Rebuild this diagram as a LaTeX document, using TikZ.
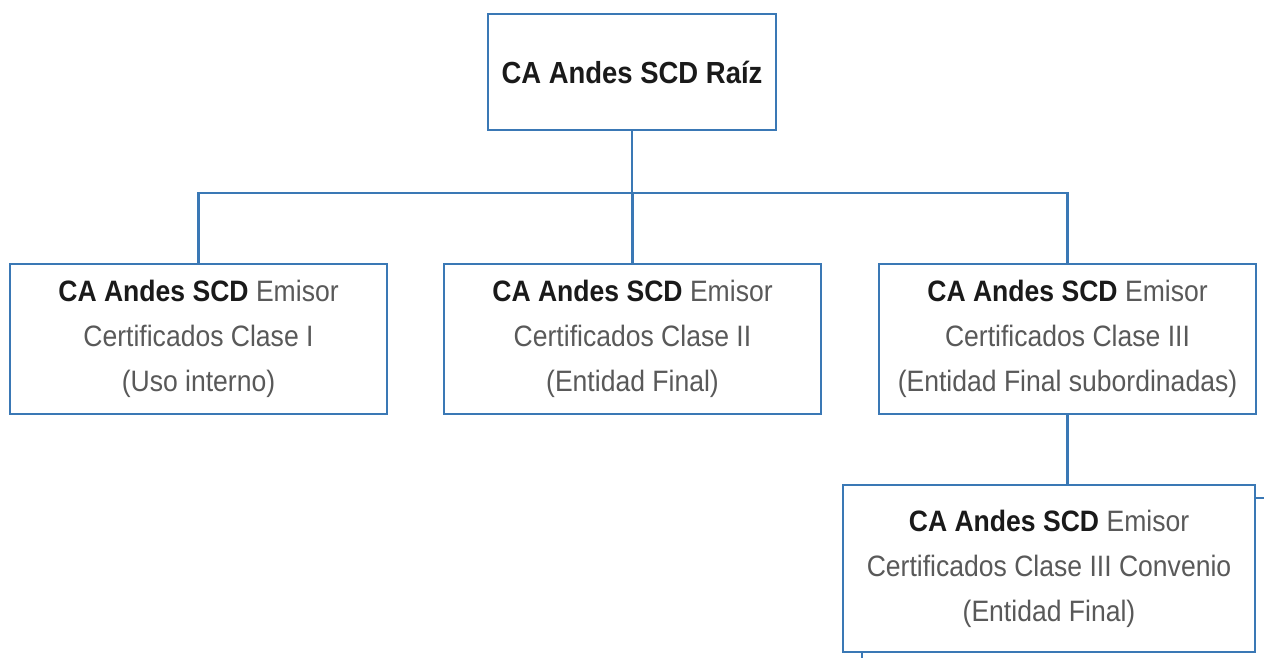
\documentclass[tikz,border=0pt]{standalone}
\usepackage{fontspec}
\setmainfont{Liberation Sans}[FakeStretch=0.9]
\definecolor{boxblue}{HTML}{3A78B5}
\definecolor{txtgray}{HTML}{595959}
\definecolor{txtblack}{HTML}{1A1A1A}
\newcommand{\bld}[1]{{\bfseries\color{txtblack}#1}}
\begin{document}
\begin{tikzpicture}[x=1pt,y=-1pt,
  cabox/.style={draw=boxblue,line width=2.6pt,fill=white,rectangle,inner sep=0pt,
    align=center,text=txtgray,font=\fontsize{29.5}{45}\selectfont},
  conn/.style={draw=boxblue,line width=2.6pt}]
\useasboundingbox[fill=white] (0,0) rectangle (1264,658);
\node[cabox,minimum width=288pt,minimum height=116pt,font=\fontsize{30.5}{45}\selectfont] (root) at (632,72)
  {\bld{CA Andes SCD Raíz}};
\node[cabox,minimum width=377pt,minimum height=150pt] (b1) at (198.5,339)
  {\bld{CA Andes SCD} Emisor\\Certificados Clase I\\(Uso interno)};
\node[cabox,minimum width=377pt,minimum height=150pt] (b2) at (632.5,339)
  {\bld{CA Andes SCD} Emisor\\Certificados Clase II\\(Entidad Final)};
\node[cabox,minimum width=377pt,minimum height=150pt] (b3) at (1067.5,339)
  {\bld{CA Andes SCD} Emisor\\Certificados Clase III\\(Entidad Final subordinadas)};
\node[cabox,minimum width=412pt,minimum height=167pt] (b4) at (1049,568.5)
  {\bld{CA Andes SCD} Emisor\\Certificados Clase III Convenio\\(Entidad Final)};
\coordinate (barR) at (1067.5,193);
\coordinate (stubR) at (1264,498);
\coordinate (stubB) at (862,658);
\draw[conn] (root.south) -- (root.south |- barR);
\draw[conn] (b1.north) |- (barR) -- (b3.north);
\draw[conn] (b2.north) -- (b2.north |- barR);
\draw[conn] (b3.south) -- (b4.north -| b3.south);
\draw[conn] (b4.east |- stubR) -- (stubR);
\draw[conn] (b4.south -| stubB) -- (stubB);
\end{tikzpicture}
\end{document}
